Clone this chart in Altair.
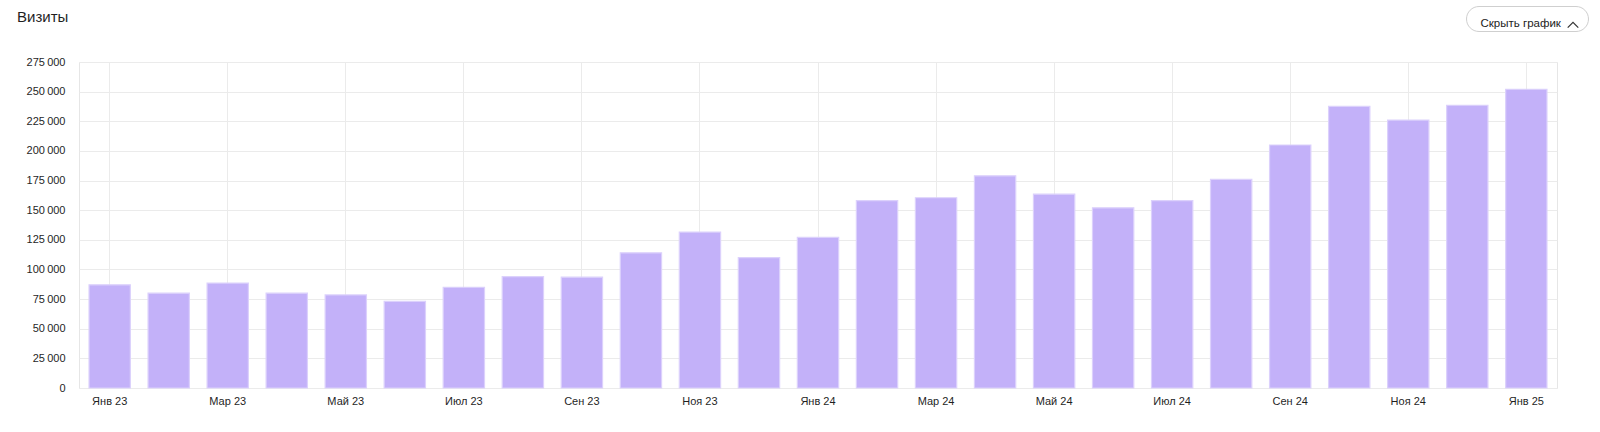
import altair as alt
import pandas as pd

# ---- data ----
months = [
    "Янв 23", "Фев 23", "Мар 23", "Апр 23", "Май 23", "Июн 23", "Июл 23", "Авг 23",
    "Сен 23", "Окт 23", "Ноя 23", "Дек 23", "Янв 24", "Фев 24", "Мар 24", "Апр 24",
    "Май 24", "Июн 24", "Июл 24", "Авг 24", "Сен 24", "Окт 24", "Ноя 24", "Дек 24",
    "Янв 25",
]
visits = [
    87000, 80000, 88500, 80000, 78500, 73000, 85000, 94000,
    93500, 114000, 131500, 110000, 127000, 158000, 160500, 179000,
    163500, 152000, 158000, 176000, 205000, 237500, 226000, 238500,
    252000,
]
x_labels = months[::2]
y_ticks = [0, 25000, 50000, 75000, 100000, 125000, 150000, 175000,
           200000, 225000, 250000, 275000]
title_text = ["Визиты"]
button_text = ["Скрыть график"]

df = pd.DataFrame({"month": months, "visits": visits})

FONT = "Liberation Sans"
GRID = "#ebebeb"

bars = alt.Chart(df).mark_bar(
    color="#c3b1f9", stroke="#dcd1fc", strokeWidth=1.2
).encode(
    x=alt.X(
        "month:N", sort=months, title=None,
        scale=alt.Scale(paddingInner=0.3, paddingOuter=0.17),
        axis=alt.Axis(
            values=x_labels, labelAngle=0, ticks=False, domain=False,
            grid=True, gridColor=GRID, gridWidth=1,
            labelPadding=7, labelFontSize=11, labelColor="#1f1f1f",
            labelFont=FONT,
        ),
    ),
    y=alt.Y(
        "visits:Q", title=None,
        scale=alt.Scale(domain=[0, 275000], nice=False, zero=True),
        axis=alt.Axis(
            values=y_ticks, ticks=False, domain=False,
            grid=True, gridColor=GRID, gridWidth=1,
            labelPadding=14, labelFontSize=11, labelColor="#1f1f1f",
            labelFont=FONT,
            labelExpr="replace(format(datum.value, ','), regexp(',', 'g'), '\u2009')",
        ),
    ),
)

title = alt.Chart(pd.DataFrame({"t": title_text})).mark_text(
    align="left", baseline="alphabetic", fontSize=15, font=FONT, color="#1f1f1f"
).encode(text="t:N", x=alt.value(-62), y=alt.value(-40))

button_box = alt.Chart(pd.DataFrame({"t": button_text})).mark_rect(
    cornerRadius=12.5, fill="white", stroke="#cfcfcf", strokeWidth=1
).encode(
    x=alt.value(1387.5), x2=alt.value(1509.5),
    y=alt.value(-55.5), y2=alt.value(-30.5),
)

button_label = alt.Chart(pd.DataFrame({"t": button_text})).mark_text(
    align="left", baseline="alphabetic", fontSize=11.5, font=FONT, color="#222222"
).encode(text="t:N", x=alt.value(1401.5), y=alt.value(-35.5))

chevron = alt.Chart(pd.DataFrame({"t": button_text})).mark_point(
    shape="M-1,0.5L0,-0.5L1,0.5", filled=False, size=112,
    strokeWidth=1.2, color="#333333", opacity=1
).encode(x=alt.value(1494), y=alt.value(-37))

chart = alt.layer(bars, title, button_box, button_label, chevron).properties(
    width=1478,
    height=326,
    autosize=alt.AutoSizeParams(type="none"),
    padding={"left": 79, "top": 62, "right": 43, "bottom": 44},
    background="white",
).configure_view(
    stroke="#e6e6e6", strokeWidth=1
)

chart.save("out.html", embed_options={"renderer": "svg", "actions": False})
